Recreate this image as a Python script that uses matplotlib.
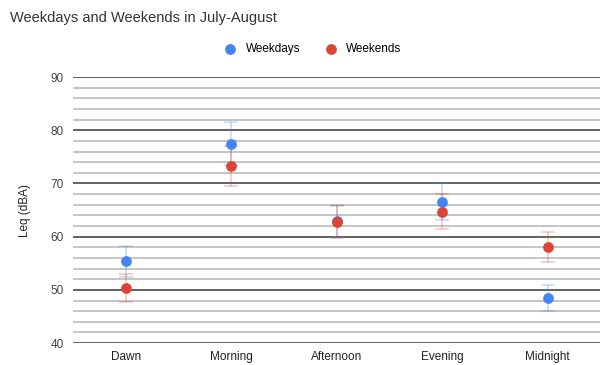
import matplotlib.pyplot as plt
import numpy as np

plt.rcParams['font.family'] = ['Liberation Sans', 'DejaVu Sans']

# data
periods = ['Dawn', 'Morning', 'Afternoon', 'Evening', 'Midnight']
weekdays = [55.4, 77.5, 63.0, 66.6, 48.5]
weekdays_err = [2.9, 4.1, 3.0, 3.5, 2.4]
weekends = [50.3, 73.3, 62.7, 64.7, 58.0]
weekends_err = [2.6, 3.7, 3.0, 3.3, 2.8]

blue = '#4285f4'
red = '#db4437'

fig = plt.figure(figsize=(6.1, 3.65), dpi=100)
ax = fig.add_axes([0.12, 0.06, 0.864, 0.729])

x = np.arange(len(periods))

# error bars (faint) then points
ax.errorbar(x, weekdays, yerr=weekdays_err, fmt='none', ecolor=blue, alpha=0.3,
            elinewidth=1.2, capsize=5, capthick=1.2, zorder=3)
ax.errorbar(x, weekends, yerr=weekends_err, fmt='none', ecolor=red, alpha=0.3,
            elinewidth=1.2, capsize=5, capthick=1.2, zorder=3)
ax.scatter(x, weekdays, s=45, color=blue, zorder=4, label='Weekdays')
ax.scatter(x, weekends, s=45, color=red, zorder=5, label='Weekends')

ax.set_xlim(-0.5, 4.5)
ax.set_ylim(40, 90)
ax.set_xticks(x)
ax.set_xticklabels(periods, fontsize=8.5, color='#222222')
ax.set_yticks(np.arange(40, 91, 10))
ax.set_yticks(np.arange(40, 91, 2), minor=True)
ax.tick_params(axis='y', labelsize=8.5, labelcolor='#444444', length=0, which='both', pad=7)
ax.tick_params(axis='x', length=0, pad=6)
ax.grid(axis='y', which='major', color='#555555', linewidth=1.3, zorder=1)
ax.grid(axis='y', which='minor', color='#b5b5b5', linewidth=1.1, zorder=1)
ax.set_axisbelow(True)
for s in ax.spines.values():
    s.set_visible(False)

ax.set_ylabel('Leq (dBA)', fontsize=8.5, color='#222222', labelpad=14)

fig.text(0.016, 0.95, 'Weekdays and Weekends in July-August', fontsize=10.5,
         color='#333333', va='center')
fig.legend(loc='center', bbox_to_anchor=(0.508, 0.866), ncol=2, frameon=False,
           fontsize=8.5, handletextpad=0.3, columnspacing=1.6, markerscale=1.0)

fig.savefig('out.png', dpi=100)
